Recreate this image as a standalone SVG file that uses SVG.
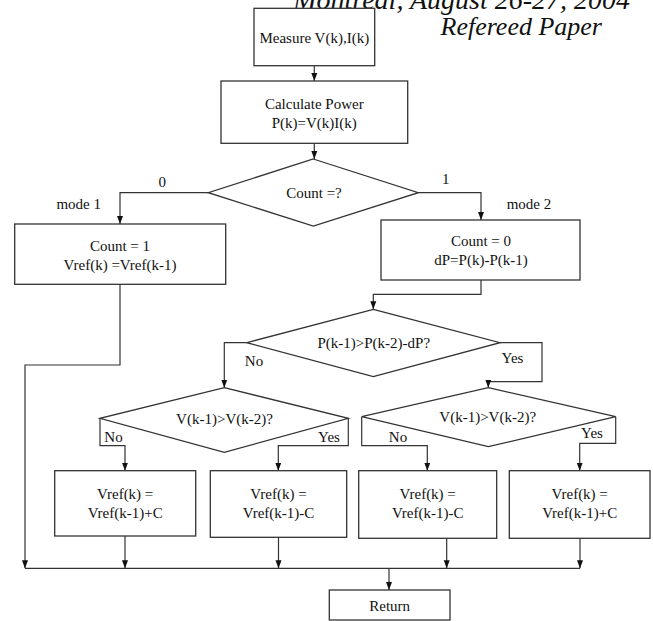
<svg xmlns="http://www.w3.org/2000/svg" width="653" height="621" viewBox="0 0 653 621">
<defs>
<style>
text{font-family:"Liberation Serif","Times New Roman",serif;font-size:15px;fill:#111;text-anchor:middle}
.hdr{font-size:26px;font-style:italic;text-anchor:end}
.hdr1{font-size:28px}
.shape{fill:#fff;stroke:#333;stroke-width:1.3}
.conn{fill:none;stroke:#333;stroke-width:1.2}
</style>
<marker id="arr" markerUnits="userSpaceOnUse" markerWidth="8" markerHeight="8" viewBox="0 0 8 8" refX="8" refY="4" orient="auto">
<path d="M0,1 L8,4 L0,7 Z" fill="#111"/>
</marker>
</defs>
<rect width="653" height="621" fill="#fff"/>
<text class="hdr hdr1" x="630" y="9">Montreal, August 26-27, 2004</text>
<text class="hdr" x="602" y="35">Refereed Paper</text>

<g id="connectors">
<path class="conn" d="M314.3,65.7 V81" marker-end="url(#arr)"/>
<path class="conn" d="M314.3,143.3 V159" marker-end="url(#arr)"/>
<path class="conn" d="M208.3,192.7 H120 V224" marker-end="url(#arr)"/>
<path class="conn" d="M418.3,192.7 H481 V220" marker-end="url(#arr)"/>
<path class="conn" d="M481,280 V294.3 H373.3 V309.3" marker-end="url(#arr)"/>
<path class="conn" d="M246.7,342.7 H224.3 V387.7" marker-end="url(#arr)"/>
<path class="conn" d="M500,342.7 H542 V381.7 H488.3 V387.7" marker-end="url(#arr)"/>
<path class="conn" d="M100,418.3 V445.7 H125 V470.7" marker-end="url(#arr)"/>
<path class="conn" d="M348.3,418.3 V445.7 H278.3 V470.7" marker-end="url(#arr)"/>
<path class="conn" d="M361.7,416.7 V445.7 H427.3 V470.7" marker-end="url(#arr)"/>
<path class="conn" d="M615.7,416.7 V443.3 H579.7 V470.7" marker-end="url(#arr)"/>
<path class="conn" d="M120,284.3 V365 H25 V568.3" marker-end="url(#arr)"/>
<path class="conn" d="M125,536 V568.3" marker-end="url(#arr)"/>
<path class="conn" d="M278.5,537.3 V568.3" marker-end="url(#arr)"/>
<path class="conn" d="M446.7,538.3 V568.3" marker-end="url(#arr)"/>
<path class="conn" d="M580,538.3 V568.3" marker-end="url(#arr)"/>
<path class="conn" d="M25,568.3 H580"/>
<path class="conn" d="M389,568.3 V590" marker-end="url(#arr)"/>
</g>

<g id="measure">
<rect class="shape" x="254" y="8.3" width="120.7" height="57.4"/>
<text x="314.3" y="43">Measure V(k),I(k)</text>
</g>
<g id="calc">
<rect class="shape" x="221" y="81" width="186.7" height="62.3"/>
<text x="314.3" y="108.5">Calculate Power</text>
<text x="314.3" y="127.5">P(k)=V(k)I(k)</text>
</g>
<g id="count-decision">
<polygon class="shape" points="313.3,159 418.3,192.7 313.3,226 208.3,192.7"/>
<text x="314" y="197.5">Count =?</text>
<text x="162.3" y="187">0</text>
<text x="445.7" y="184">1</text>
<text x="78.7" y="209">mode 1</text>
<text x="529" y="209">mode 2</text>
</g>
<g id="mode1">
<rect class="shape" x="14.7" y="224" width="211" height="60.3"/>
<text x="120" y="250.5">Count = 1</text>
<text x="120" y="270">Vref(k) =Vref(k-1)</text>
</g>
<g id="mode2">
<rect class="shape" x="381" y="220" width="199" height="60"/>
<text x="481" y="245.5">Count = 0</text>
<text x="481" y="265">dP=P(k)-P(k-1)</text>
</g>
<g id="p-decision">
<polygon class="shape" points="373.3,309.3 500,342.7 373.3,376.7 246.7,342.7"/>
<text x="373.8" y="348">P(k-1)&gt;P(k-2)-dP?</text>
<text x="254" y="366">No</text>
<text x="512.5" y="363">Yes</text>
</g>
<g id="v-decision-1">
<polygon class="shape" points="224.3,387.7 348.3,418.3 224.3,452.3 100,418.3"/>
<text x="224.5" y="424">V(k-1)&gt;V(k-2)?</text>
<text x="113.5" y="441.5">No</text>
<text x="329" y="442">Yes</text>
</g>
<g id="v-decision-2">
<polygon class="shape" points="488.3,387.7 615.7,416.7 488.3,446.7 361.7,416.7"/>
<text x="487.7" y="421.5">V(k-1)&gt;V(k-2)?</text>
<text x="398" y="441.5">No</text>
<text x="592" y="438">Yes</text>
</g>
<g id="box1">
<rect class="shape" x="54.7" y="470.7" width="141" height="65.3"/>
<text x="125.2" y="499">Vref(k) =</text>
<text x="125.2" y="518">Vref(k-1)+C</text>
</g>
<g id="box2">
<rect class="shape" x="210.3" y="470.7" width="136.4" height="66.6"/>
<text x="278.5" y="499">Vref(k) =</text>
<text x="278.5" y="518">Vref(k-1)-C</text>
</g>
<g id="box3">
<rect class="shape" x="358.7" y="470.7" width="138" height="67.6"/>
<text x="427.7" y="499">Vref(k) =</text>
<text x="427.7" y="518">Vref(k-1)-C</text>
</g>
<g id="box4">
<rect class="shape" x="509.3" y="470.7" width="140.7" height="67.6"/>
<text x="579.7" y="499">Vref(k) =</text>
<text x="579.7" y="518">Vref(k-1)+C</text>
</g>
<g id="return">
<rect class="shape" x="329.3" y="590" width="120.7" height="30"/>
<text x="389.7" y="611">Return</text>
</g>
</svg>
